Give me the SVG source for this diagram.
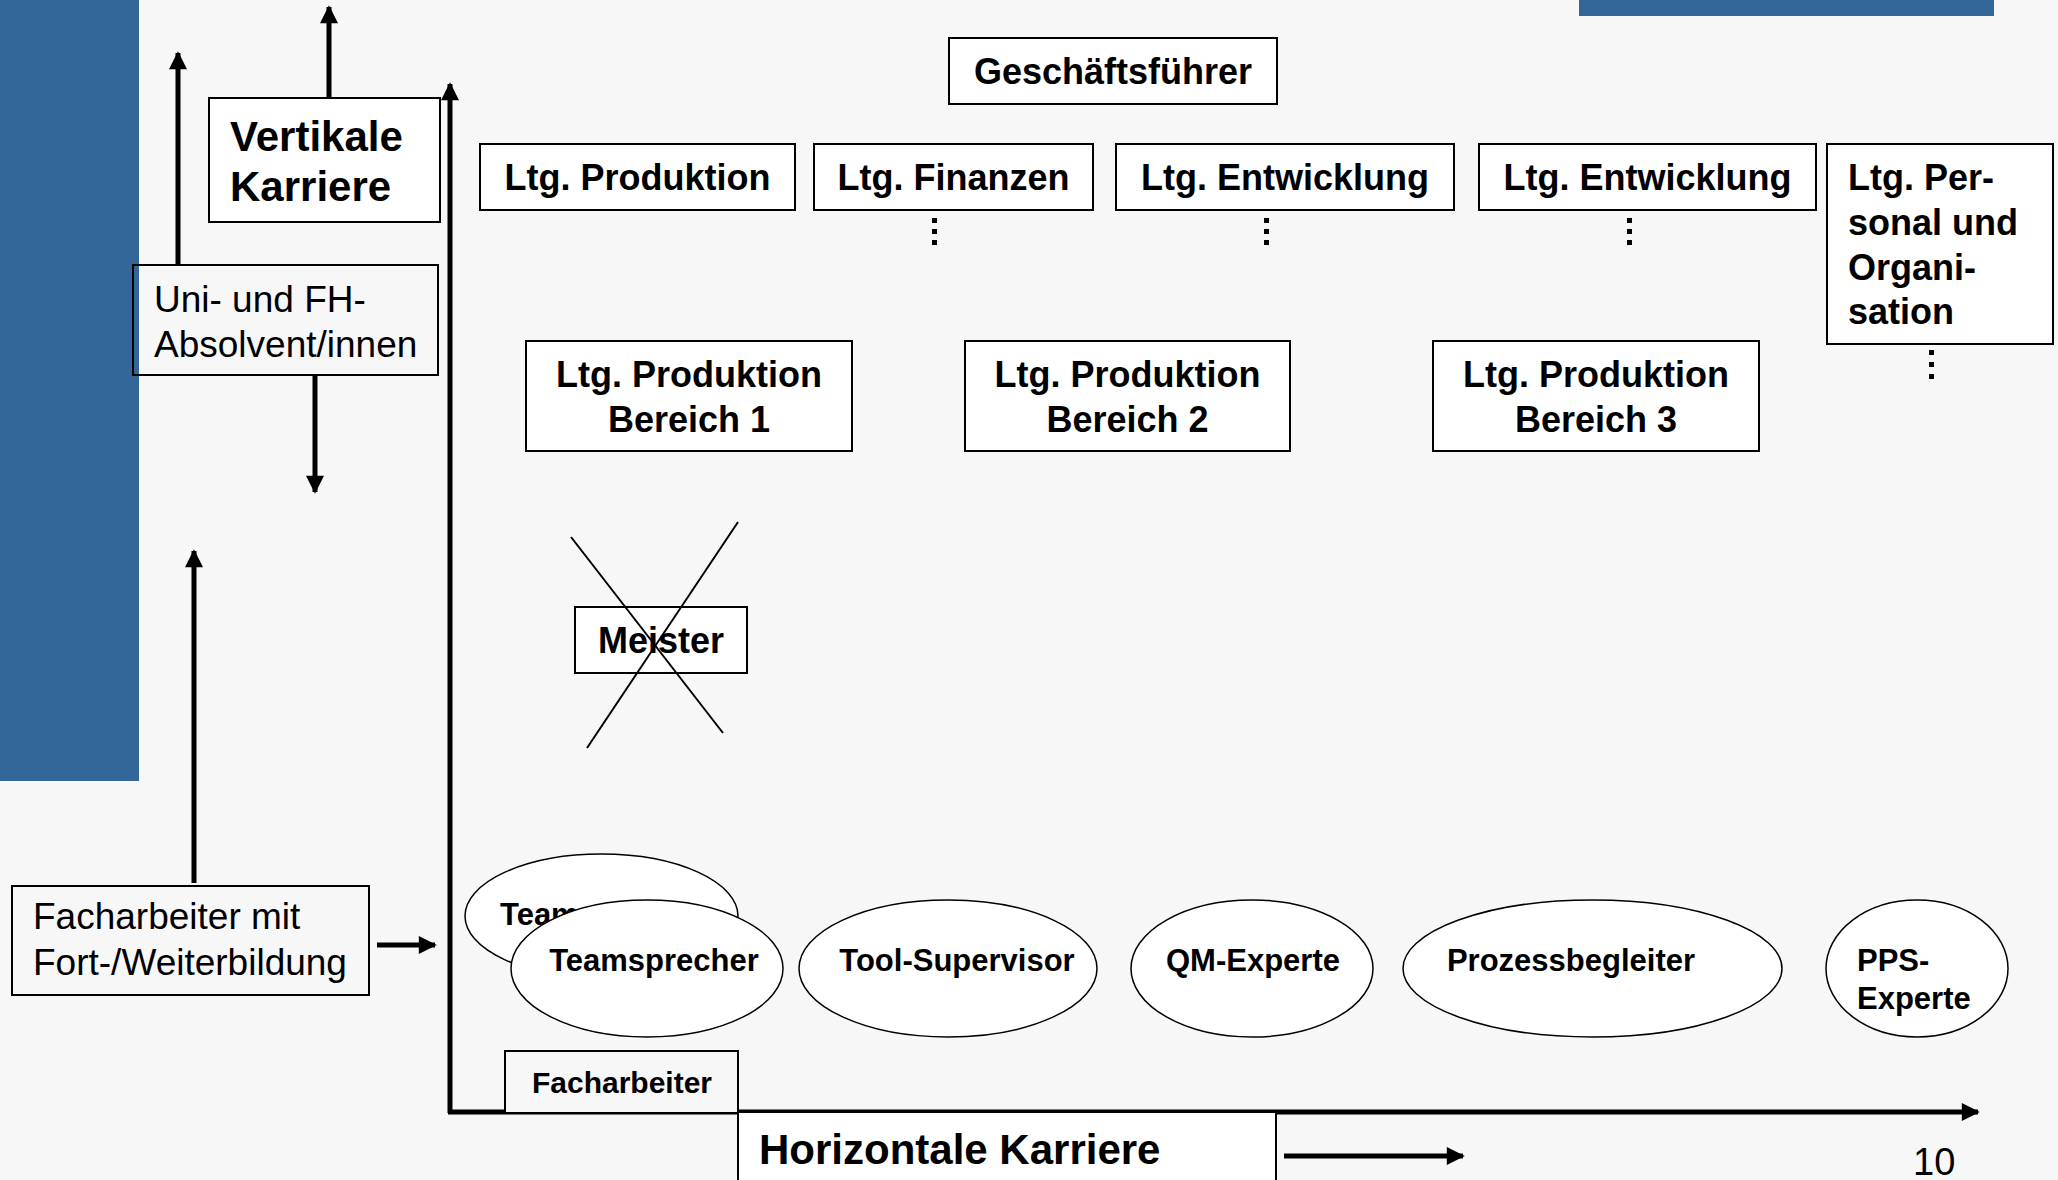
<svg xmlns="http://www.w3.org/2000/svg" width="2058" height="1180" viewBox="0 0 2058 1180">
<defs>
<style>
.box{fill:#ffffff;stroke:#000;stroke-width:2}
.boxt{fill:none;stroke:#000;stroke-width:2}
.ell{fill:#ffffff;stroke:#000;stroke-width:1.5}
.b{font-family:"Liberation Sans",Arial,sans-serif;font-weight:bold;fill:#000}
.r{font-family:"Liberation Sans",Arial,sans-serif;fill:#000}
.arr{stroke:#000;stroke-width:5;fill:none}
.axis{stroke:#000;stroke-width:5;fill:none}
.dot{fill:#000}
</style>
<marker id="ah" viewBox="0 0 10 10" refX="9" refY="5" markerWidth="20" markerHeight="18" markerUnits="userSpaceOnUse" orient="auto">
<path d="M0,0 L10,5 L0,10 Z" fill="#000"/>
</marker>
</defs>
<rect x="0" y="0" width="2058" height="1180" fill="#f7f7f7"/>
<rect x="0" y="0" width="139" height="781" fill="#336699"/>
<rect x="1579" y="0" width="415" height="16" fill="#336699"/>

<g id="connectors">
<line class="axis" x1="450" y1="1113" x2="450" y2="84" marker-end="url(#ah)"/>
<line class="axis" x1="448" y1="1112" x2="1978" y2="1112" marker-end="url(#ah)"/>
<line class="arr" x1="329" y1="98" x2="329" y2="7" marker-end="url(#ah)"/>
<line class="arr" x1="178" y1="265" x2="178" y2="53" marker-end="url(#ah)"/>
<line class="arr" x1="315" y1="374" x2="315" y2="492" marker-end="url(#ah)"/>
<line class="arr" x1="194" y1="883" x2="194" y2="551" marker-end="url(#ah)"/>
<line class="arr" x1="377" y1="945" x2="435" y2="945" marker-end="url(#ah)"/>
<line class="arr" x1="1284" y1="1156" x2="1463" y2="1156" marker-end="url(#ah)"/>
</g>

<g id="vertikale-karriere">
<rect class="box" x="209" y="98" width="231" height="124"/>
<text class="b" font-size="42" x="230" y="151">Vertikale</text>
<text class="b" font-size="42" x="230" y="201">Karriere</text>
</g>

<g id="uni-absolvent">
<rect class="boxt" x="133" y="265" width="305" height="110"/>
<text class="r" font-size="37" x="154" y="312">Uni- und FH-</text>
<text class="r" font-size="37" x="154" y="357">Absolvent/innen</text>
</g>

<g id="geschaeftsfuehrer">
<rect class="box" x="949" y="38" width="328" height="66"/>
<text class="b" font-size="36" x="1113" y="84" text-anchor="middle">Geschäftsführer</text>
</g>

<g id="ltg-produktion">
<rect class="box" x="480" y="144" width="315" height="66"/>
<text class="b" font-size="36" x="637.5" y="190" text-anchor="middle">Ltg. Produktion</text>
</g>
<g id="ltg-finanzen">
<rect class="box" x="814" y="144" width="279" height="66"/>
<text class="b" font-size="36" x="953.5" y="190" text-anchor="middle">Ltg. Finanzen</text>
<rect class="dot" x="932" y="218" width="5" height="5"/>
<rect class="dot" x="932" y="229" width="5" height="5"/>
<rect class="dot" x="932" y="240" width="5" height="5"/>
</g>
<g id="ltg-entwicklung-1">
<rect class="box" x="1116" y="144" width="338" height="66"/>
<text class="b" font-size="36" x="1285" y="190" text-anchor="middle">Ltg. Entwicklung</text>
<rect class="dot" x="1264" y="218" width="5" height="5"/>
<rect class="dot" x="1264" y="229" width="5" height="5"/>
<rect class="dot" x="1264" y="240" width="5" height="5"/>
</g>
<g id="ltg-entwicklung-2">
<rect class="box" x="1479" y="144" width="337" height="66"/>
<text class="b" font-size="36" x="1647.5" y="190" text-anchor="middle">Ltg. Entwicklung</text>
<rect class="dot" x="1627" y="218" width="5" height="5"/>
<rect class="dot" x="1627" y="229" width="5" height="5"/>
<rect class="dot" x="1627" y="240" width="5" height="5"/>
</g>
<g id="ltg-personal">
<rect class="box" x="1827" y="144" width="226" height="200"/>
<text class="b" font-size="36" x="1848" y="190">Ltg. Per-</text>
<text class="b" font-size="36" x="1848" y="235">sonal und</text>
<text class="b" font-size="36" x="1848" y="280">Organi-</text>
<text class="b" font-size="36" x="1848" y="324">sation</text>
<rect class="dot" x="1929" y="350" width="5" height="5"/>
<rect class="dot" x="1929" y="362" width="5" height="5"/>
<rect class="dot" x="1929" y="374" width="5" height="5"/>
</g>

<g id="bereich-1">
<rect class="box" x="526" y="341" width="326" height="110"/>
<text class="b" font-size="36" x="689" y="387" text-anchor="middle">Ltg. Produktion</text>
<text class="b" font-size="36" x="689" y="432" text-anchor="middle">Bereich 1</text>
</g>
<g id="bereich-2">
<rect class="box" x="965" y="341" width="325" height="110"/>
<text class="b" font-size="36" x="1127.5" y="387" text-anchor="middle">Ltg. Produktion</text>
<text class="b" font-size="36" x="1127.5" y="432" text-anchor="middle">Bereich 2</text>
</g>
<g id="bereich-3">
<rect class="box" x="1433" y="341" width="326" height="110"/>
<text class="b" font-size="36" x="1596" y="387" text-anchor="middle">Ltg. Produktion</text>
<text class="b" font-size="36" x="1596" y="432" text-anchor="middle">Bereich 3</text>
</g>

<g id="meister">
<rect class="box" x="575" y="607" width="172" height="66"/>
<text class="b" font-size="36" x="661" y="653" text-anchor="middle">Meister</text>
<line x1="571" y1="537" x2="723" y2="733" stroke="#000" stroke-width="2"/>
<line x1="738" y1="522" x2="587" y2="748" stroke="#000" stroke-width="2"/>
</g>

<g id="team">
<ellipse class="ell" cx="601.5" cy="916" rx="136.5" ry="62"/>
<text class="b" font-size="31" x="500" y="925">Team</text>
</g>
<g id="teamsprecher">
<ellipse class="ell" cx="647" cy="968.5" rx="136" ry="68.5"/>
<text class="b" font-size="31" x="654" y="971" text-anchor="middle">Teamsprecher</text>
</g>
<g id="tool-supervisor">
<ellipse class="ell" cx="948" cy="968.5" rx="149" ry="68.5"/>
<text class="b" font-size="31" x="957" y="971" text-anchor="middle">Tool-Supervisor</text>
</g>
<g id="qm-experte">
<ellipse class="ell" cx="1252" cy="968.5" rx="121" ry="68.5"/>
<text class="b" font-size="31" x="1253" y="971" text-anchor="middle">QM-Experte</text>
</g>
<g id="prozessbegleiter">
<ellipse class="ell" cx="1592.5" cy="968.5" rx="189.5" ry="68.5"/>
<text class="b" font-size="31" x="1571" y="971" text-anchor="middle">Prozessbegleiter</text>
</g>
<g id="pps-experte">
<ellipse class="ell" cx="1917" cy="968.5" rx="91" ry="68.5"/>
<text class="b" font-size="31" x="1857" y="971">PPS-</text>
<text class="b" font-size="31" x="1857" y="1009">Experte</text>
</g>

<g id="facharbeiter">
<rect x="505" y="1051" width="233" height="62" fill="#f7f7f7" stroke="#000" stroke-width="2"/>
<text class="b" font-size="30" x="622" y="1093" text-anchor="middle">Facharbeiter</text>
</g>

<g id="facharbeiter-fort">
<rect class="boxt" x="12" y="886" width="357" height="109"/>
<text class="r" font-size="37" x="33" y="929">Facharbeiter mit</text>
<text class="r" font-size="37" x="33" y="975">Fort-/Weiterbildung</text>
</g>

<g id="horizontale-karriere">
<rect class="box" x="738" y="1112" width="538" height="80"/>
<text class="b" font-size="42" x="759" y="1164">Horizontale Karriere</text>
</g>

<text class="r" font-size="38" x="1913" y="1175">10</text>
</svg>
